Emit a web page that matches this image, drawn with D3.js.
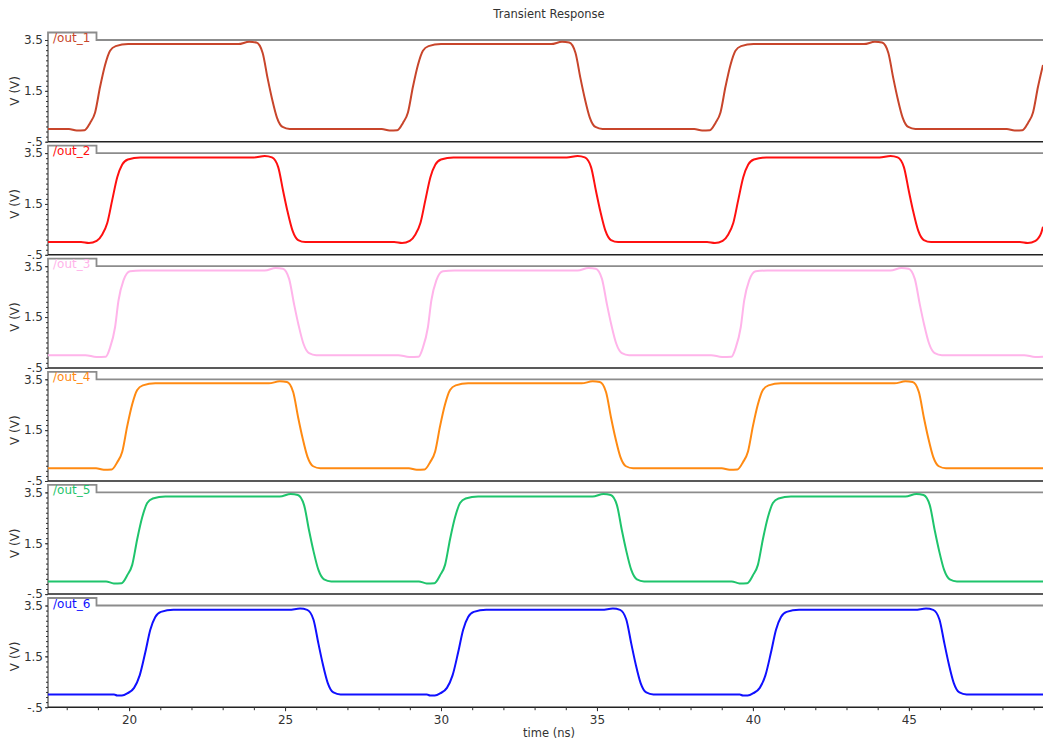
<!DOCTYPE html>
<html>
<head>
<meta charset="utf-8">
<script src="https://cdn.jsdelivr.net/npm/d3@7"></script>
<style>
  body { margin: 0; background: #fff; }
  text { font-family: "DejaVu Sans", sans-serif; fill: #333; }
</style>
</head>
<body>
<div id="chart"></div>
<script>
// signal names and trace colours, one per strip
const signals = ["/out_1", "/out_2", "/out_3", "/out_4", "/out_5", "/out_6"];
const colors = ["#c8452b", "#ff1010", "#ffb4ea", "#ff8a12", "#1fc46c", "#1010ff"];

// y ticks (V) and x ticks (ns)
const yLabels = [3.5, 1.5, -0.5];
const xLabels = [20, 25, 30, 35, 40, 45];
const timeRange = [17.4, 49.3];

// waveforms: [time ns, volts]
const out1 = [[17.4,0],
  [18.07,0],[18.32,-0.06],[18.57,-0.05],[18.75,0.24],[18.91,0.65],[19.07,1.66],[19.23,2.52],[19.39,3.08],[19.57,3.26],[19.97,3.34],
  [23.5,3.34],[23.85,3.43],[24.08,3.4],[24.28,3.0],[24.44,2.0],[24.58,1.2],[24.74,0.45],[24.92,0.08],[25.15,0],
  [28.1,0],[28.35,-0.06],[28.6,-0.05],[28.78,0.24],[28.94,0.65],[29.1,1.66],[29.26,2.52],[29.42,3.08],[29.6,3.26],[30.0,3.34],
  [33.53,3.34],[33.88,3.43],[34.11,3.4],[34.31,3.0],[34.47,2.0],[34.61,1.2],[34.77,0.45],[34.95,0.08],[35.18,0],
  [38.12,0],[38.37,-0.06],[38.62,-0.05],[38.8,0.24],[38.96,0.65],[39.12,1.66],[39.28,2.52],[39.44,3.08],[39.62,3.26],[40.02,3.34],
  [43.56,3.34],[43.91,3.43],[44.14,3.4],[44.34,3.0],[44.5,2.0],[44.64,1.2],[44.8,0.45],[44.98,0.08],[45.21,0],
  [48.14,0],[48.39,-0.06],[48.64,-0.05],[48.82,0.24],[48.98,0.65],[49.14,1.66],[49.3,2.52]];

const out2 = [[17.4,0],
  [18.46,0],[18.71,-0.04],[18.96,0.05],[19.14,0.3],[19.3,0.75],[19.46,1.66],[19.62,2.55],[19.78,3.05],[19.96,3.25],[20.36,3.33],
  [24.0,3.33],[24.35,3.39],[24.58,3.33],[24.78,2.95],[24.94,2.0],[25.08,1.2],[25.24,0.45],[25.42,0.08],[25.65,0],
  [28.5,0],[28.75,-0.04],[29.0,0.05],[29.18,0.3],[29.34,0.75],[29.5,1.66],[29.66,2.55],[29.82,3.05],[30.0,3.25],[30.4,3.33],
  [34.03,3.33],[34.38,3.39],[34.61,3.33],[34.81,2.95],[34.97,2.0],[35.11,1.2],[35.27,0.45],[35.45,0.08],[35.68,0],
  [38.53,0],[38.78,-0.04],[39.03,0.05],[39.21,0.3],[39.37,0.75],[39.53,1.66],[39.69,2.55],[39.85,3.05],[40.03,3.25],[40.43,3.33],
  [44.06,3.33],[44.41,3.39],[44.64,3.33],[44.84,2.95],[45.0,2.0],[45.14,1.2],[45.3,0.45],[45.48,0.08],[45.71,0],
  [48.56,0],[48.81,-0.04],[49.06,0.05],[49.24,0.35],[49.3,0.6]];

const out3 = [[17.4,0],
  [18.6,0],[18.95,-0.07],[19.25,-0.06],[19.39,0.3],[19.55,1.1],[19.66,2.15],[19.82,2.94],[20.03,3.3],[20.4,3.33],
  [24.35,3.33],[24.7,3.43],[24.93,3.4],[25.13,3.0],[25.29,2.0],[25.43,1.2],[25.59,0.45],[25.77,0.08],[26.0,0],
  [28.63,0],[28.98,-0.07],[29.28,-0.06],[29.42,0.3],[29.58,1.1],[29.69,2.15],[29.85,2.94],[30.06,3.3],[30.43,3.33],
  [34.38,3.33],[34.73,3.43],[34.96,3.4],[35.16,3.0],[35.32,2.0],[35.46,1.2],[35.62,0.45],[35.8,0.08],[36.03,0],
  [38.66,0],[39.01,-0.07],[39.31,-0.06],[39.45,0.3],[39.61,1.1],[39.72,2.15],[39.88,2.94],[40.09,3.3],[40.46,3.33],
  [44.41,3.33],[44.76,3.43],[44.99,3.4],[45.19,3.0],[45.35,2.0],[45.49,1.2],[45.65,0.45],[45.83,0.08],[46.06,0],
  [48.7,0],[49.05,-0.07],[49.3,-0.06]];

const out4 = [[17.4,0],
  [18.94,0],[19.19,-0.06],[19.44,-0.05],[19.62,0.24],[19.78,0.65],[19.94,1.66],[20.1,2.52],[20.26,3.08],[20.44,3.26],[20.84,3.34],
  [24.48,3.34],[24.83,3.42],[25.06,3.39],[25.26,3.0],[25.42,2.0],[25.56,1.2],[25.72,0.45],[25.9,0.08],[26.13,0],
  [28.97,0],[29.22,-0.06],[29.47,-0.05],[29.65,0.24],[29.81,0.65],[29.97,1.66],[30.13,2.52],[30.29,3.08],[30.47,3.26],[30.87,3.34],
  [34.51,3.34],[34.86,3.42],[35.09,3.39],[35.29,3.0],[35.45,2.0],[35.59,1.2],[35.75,0.45],[35.93,0.08],[36.16,0],
  [39.0,0],[39.25,-0.06],[39.5,-0.05],[39.68,0.24],[39.84,0.65],[40.0,1.66],[40.16,2.52],[40.32,3.08],[40.5,3.26],[40.9,3.34],
  [44.54,3.34],[44.89,3.42],[45.12,3.39],[45.32,3.0],[45.48,2.0],[45.62,1.2],[45.78,0.45],[45.96,0.08],[46.19,0],
  [49.3,0]];

const out5 = [[17.4,0],
  [19.26,0],[19.51,-0.08],[19.76,-0.07],[19.94,0.24],[20.1,0.65],[20.26,1.66],[20.42,2.52],[20.58,3.08],[20.76,3.26],[21.16,3.34],
  [24.83,3.34],[25.18,3.44],[25.41,3.4],[25.61,3.0],[25.77,2.0],[25.91,1.2],[26.07,0.45],[26.25,0.08],[26.48,0],
  [29.29,0],[29.54,-0.08],[29.79,-0.07],[29.97,0.24],[30.13,0.65],[30.29,1.66],[30.45,2.52],[30.61,3.08],[30.79,3.26],[31.19,3.34],
  [34.86,3.34],[35.21,3.44],[35.44,3.4],[35.64,3.0],[35.8,2.0],[35.94,1.2],[36.1,0.45],[36.28,0.08],[36.51,0],
  [39.32,0],[39.57,-0.08],[39.82,-0.07],[40.0,0.24],[40.16,0.65],[40.32,1.66],[40.48,2.52],[40.64,3.08],[40.82,3.26],[41.22,3.34],
  [44.89,3.34],[45.24,3.44],[45.47,3.4],[45.67,3.0],[45.83,2.0],[45.97,1.2],[46.13,0.45],[46.31,0.08],[46.54,0],
  [49.3,0]];

const out6 = [[17.4,0],
  [19.52,0],[19.62,-0.04],[19.77,-0.04],[19.95,0.05],[20.16,0.26],[20.34,0.75],[20.52,1.66],[20.68,2.55],[20.84,3.05],[21.02,3.25],[21.42,3.33],
  [25.13,3.33],[25.48,3.38],[25.71,3.33],[25.91,2.95],[26.07,2.0],[26.21,1.2],[26.37,0.45],[26.55,0.08],[26.78,0],
  [29.55,0],[29.65,-0.04],[29.8,-0.04],[29.98,0.05],[30.19,0.26],[30.37,0.75],[30.55,1.66],[30.71,2.55],[30.87,3.05],[31.05,3.25],[31.45,3.33],
  [35.16,3.33],[35.51,3.38],[35.74,3.33],[35.94,2.95],[36.1,2.0],[36.24,1.2],[36.4,0.45],[36.58,0.08],[36.81,0],
  [39.58,0],[39.68,-0.04],[39.83,-0.04],[40.01,0.05],[40.22,0.26],[40.4,0.75],[40.58,1.66],[40.74,2.55],[40.9,3.05],[41.08,3.25],[41.48,3.33],
  [45.2,3.33],[45.55,3.38],[45.78,3.33],[45.98,2.95],[46.14,2.0],[46.28,1.2],[46.44,0.45],[46.62,0.08],[46.85,0],
  [49.3,0]];

const traces = [out1, out2, out3, out4, out5, out6];

const width = 1043;
const height = 742;
const left = 48;
const firstTop = 40;
const step = 113.1;
const stripH = 101.7;

const svg = d3.select("#chart").append("svg")
  .attr("width", width)
  .attr("height", height);

const x = d3.scaleLinear().domain(timeRange).range([left, width]);

svg.append("text")
  .attr("x", 549)
  .attr("y", 18)
  .attr("text-anchor", "middle")
  .style("font-size", "11.5px")
  .text("Transient Response");

signals.forEach((name, i) => {
  const top = firstTop + i * step;
  const bottom = top + stripH;
  const y = d3.scaleLinear().domain([-0.5, 3.5]).range([bottom, top]);

  const g = svg.append("g");

  svg.append("clipPath").attr("id", "clip" + i)
    .append("rect")
    .attr("x", left).attr("y", top - 4)
    .attr("width", width - left).attr("height", stripH + 4);

  // gray frame with the name tab
  g.append("path")
    .attr("d", `M${left},${top} L${left},${top - 7.5} L96.5,${top - 7.5} L96.5,${top} L${width},${top}`)
    .attr("fill", "none")
    .attr("stroke", "#8c8c8c")
    .attr("stroke-width", 1.8);

  g.append("text")
    .attr("x", 53)
    .attr("y", top + 2)
    .style("font-size", "12px")
    .style("fill", colors[i])
    .text(name);

  // minor ticks on the left axis
  g.append("g")
    .attr("transform", `translate(${left},0)`)
    .call(d3.axisLeft(y).tickValues(d3.range(-0.5, 3.51, 0.2)).tickSize(2).tickFormat(""))
    .call(a => a.select(".domain").remove())
    .call(a => a.selectAll("line").attr("stroke", "#333"));

  g.append("g")
    .attr("transform", `translate(${left},0)`)
    .call(d3.axisLeft(y).tickValues(yLabels).tickSize(3).tickPadding(2)
      .tickFormat(d => d === -0.5 ? "-.5" : d3.format(".1f")(d)))
    .call(a => a.select(".domain").attr("stroke", "#222").attr("d", `M0,${top}V${bottom}`))
    .call(a => a.selectAll("line").attr("stroke", "#333"))
    .call(a => a.selectAll("text").style("font-size", "12px").style("fill", "#333"));

  // bottom line of the strip
  g.append("line")
    .attr("x1", left).attr("x2", width)
    .attr("y1", bottom).attr("y2", bottom)
    .attr("stroke", "#222")
    .attr("stroke-width", 1.5);

  g.append("text")
    .attr("transform", `translate(19,${(top + bottom) / 2}) rotate(-90)`)
    .attr("text-anchor", "middle")
    .style("font-size", "12px")
    .text("V (V)");

  const line = d3.line()
    .x(d => x(d[0]))
    .y(d => y(d[1]))
    .curve(d3.curveMonotoneX);

  g.append("path")
    .datum(traces[i])
    .attr("clip-path", `url(#clip${i})`)
    .attr("fill", "none")
    .attr("stroke", colors[i])
    .attr("stroke-width", 2)
    .attr("d", line);

  if (i === signals.length - 1) {
    const xAxis = svg.append("g").attr("transform", `translate(0,${bottom})`);
    xAxis.call(d3.axisBottom(x).tickValues(d3.range(18, 50, 1)).tickSize(3).tickFormat(""))
      .call(a => a.select(".domain").remove())
      .call(a => a.selectAll("line").attr("stroke", "#333"));
    xAxis.append("g")
      .call(d3.axisBottom(x).tickValues(xLabels).tickSize(4).tickPadding(4))
      .call(a => a.select(".domain").remove())
      .call(a => a.selectAll("line").attr("stroke", "#333"))
      .call(a => a.selectAll("text").style("font-size", "12px").style("fill", "#333"));

    svg.append("text")
      .attr("x", 549)
      .attr("y", 737)
      .attr("text-anchor", "middle")
      .style("font-size", "11.5px")
      .text("time (ns)");
  }
});
</script>
</body>
</html>
